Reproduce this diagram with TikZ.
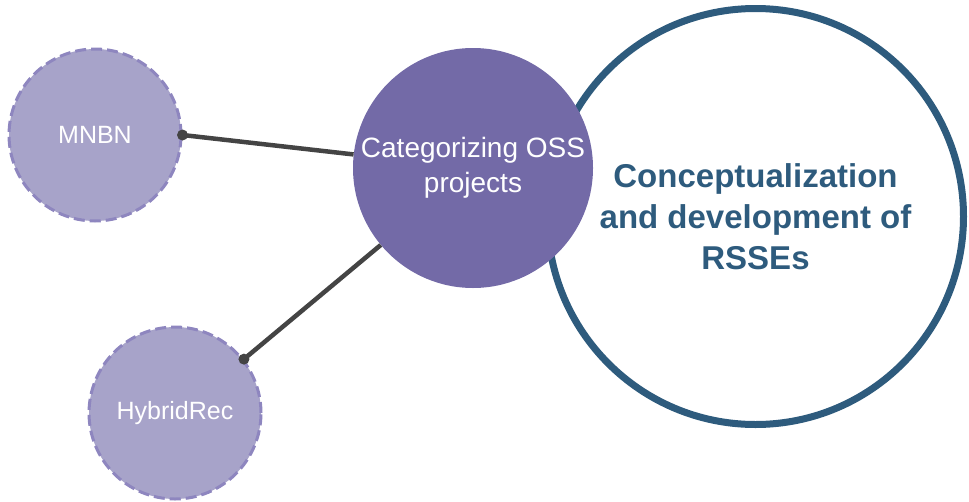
\documentclass[tikz,border=0pt]{standalone}
\usepackage{fontspec}
\setmainfont{Liberation Sans}
\usetikzlibrary{arrows}
\definecolor{ringblue}{HTML}{2E5B7D}
\definecolor{catpurple}{HTML}{736AA7}
\definecolor{algofill}{HTML}{A7A3C9}
\definecolor{algoedge}{HTML}{8E86BF}
\definecolor{linkgray}{HTML}{444444}

\begin{document}
\begin{tikzpicture}[x=1pt,y=-1pt,
  algo/.style={circle,draw=algoedge,fill=algofill,dash pattern=on 11pt off 5pt,line width=3pt,
    minimum size=172pt,inner sep=0pt,text=white,font=\fontsize{25}{30}\selectfont},
  link/.style={draw=linkgray,line width=4.5pt}]
  \useasboundingbox (0,0) rectangle (969,501);
  \node[circle,draw=ringblue,line width=7pt,minimum size=416pt,inner sep=0pt,text=ringblue,align=center,
    font=\bfseries\fontsize{33}{41}\selectfont] (R-1) at (755.5,216.5) {Conceptualization\\and development of\\RSSEs};
  \node[circle,fill=catpurple,minimum size=240pt,inner sep=0pt,text=white,align=center,
    font=\fontsize{28}{35}\selectfont] (C-1) at (473,168) {Categorizing OSS\\projects};
  \node[algo] (A-1) at (95,135) {MNBN};
  \node[algo] (A-2) at (175,413) {HybridRec};
  \draw[link] (A-1.east) -- (C-1);
  \draw[link] (A-2.38) -- (C-1);
  \fill[linkgray] (A-1.east) circle (5.5pt) (A-2.38) circle (5.5pt);
\end{tikzpicture}
\end{document}
